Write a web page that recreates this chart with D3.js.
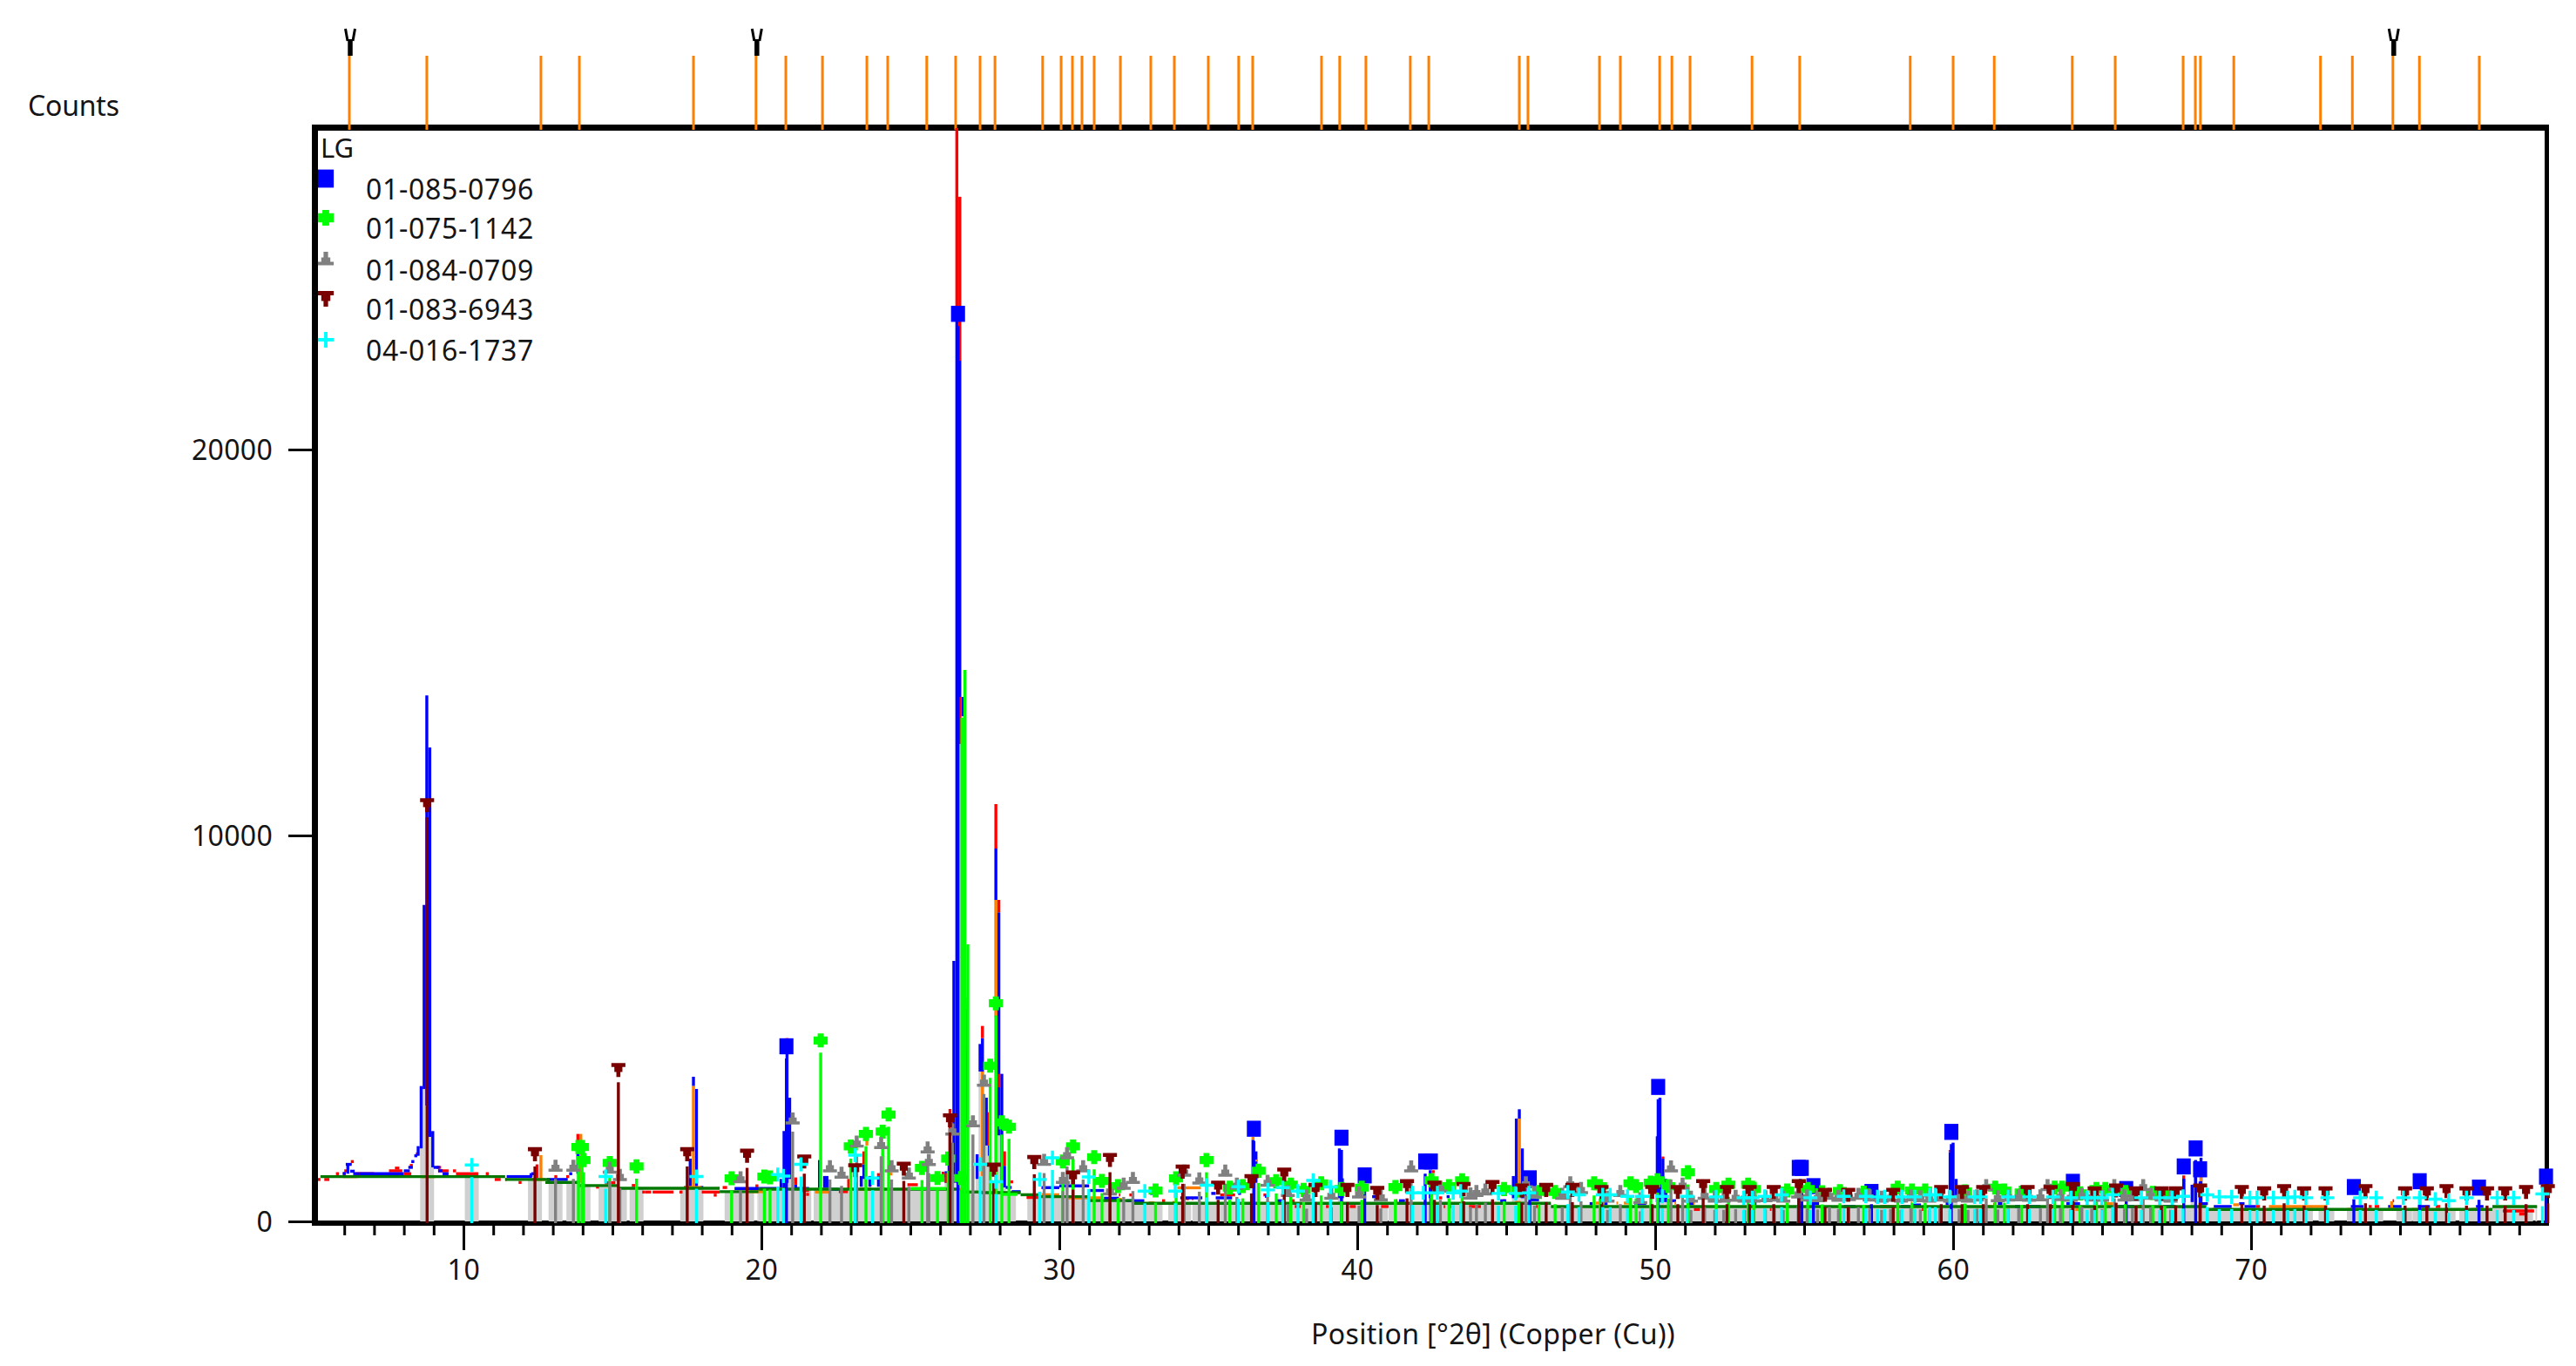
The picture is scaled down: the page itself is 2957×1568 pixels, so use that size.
<!DOCTYPE html>
<html><head><meta charset="utf-8">
<script src="https://cdn.jsdelivr.net/npm/d3@7/dist/d3.min.js"></script>
<style>html,body{margin:0;padding:0;background:#fff}svg{display:block}text{font-family:"Noto Sans",sans-serif;fill:#141414}</style>
</head><body>
<script>
const legendNames=["01-085-0796","01-075-1142","01-084-0709","01-083-6943","04-016-1737"];
const xMajorTicks=[10,20,30,40,50,60,70];
const xMinorTicks=[6,7,8,9,11,12,13,14,15,16,17,18,19,21,22,23,24,25,26,27,28,29,31,32,33,34,35,36,37,38,39,41,42,43,44,45,46,47,48,49,51,52,53,54,55,56,57,58,59,61,62,63,64,65,66,67,68,69,71,72,73,74,75,76,77,78,79];
const yTicks=[0,10000,20000];
const topTicks=[6.17,8.77,12.6,13.89,17.72,19.82,20.82,22.05,23.54,24.24,25.55,26.52,27.34,27.84,29.44,30.06,30.44,30.76,31.17,32.05,33.07,33.86,35.0,36.02,36.49,38.8,39.41,40.29,41.78,42.4,45.44,45.73,48.13,48.83,50.15,50.56,51.17,53.25,54.85,58.56,60,61.38,64,65.44,67.72,68.13,68.3,69.42,72.33,73.4,74.76,75.65,77.66];
const vMarks=[6.17,19.82,74.76];

const blueSticks=[[20.84,4221],[26.6,23200],[36.53,2085],[39.47,1852],[40.25,875],[42.28,1236],[42.47,1236],[45.79,800],[50.1,3168],[54.82,1070],[54.92,1070],[55.31,597],[57.26,446],[59.94,2003],[64.02,709],[65.81,522],[67.74,1108],[68.14,1574],[68.29,1033],[73.45,574],[75.66,725],[77.65,559],[79.9,845]];
const greenSticks=[[13.86,1612],[13.98,1612],[14.03,1273],[14.91,1198],[15.81,1108],[19.0,800],[20.1,845],[20.29,823],[21.99,4372],[23.0,1627],[23.51,1950],[24.07,2010],[24.27,2454],[25.39,1070],[25.91,807],[26.27,1311],[26.7,807],[27.68,3718],[27.87,5334],[28.07,2250],[28.31,2138],[30.12,1236],[30.46,1627],[31.17,1349],[31.43,732],[31.97,597],[33.23,484],[33.92,800],[34.94,1273],[35.72,559],[36.16,597],[36.69,995],[37.28,725],[37.77,634],[38.2,499],[38.79,672],[39.47,522],[40.15,559],[41.28,574],[42.49,747],[43.08,597],[43.52,747],[44.93,522],[45.42,484],[46.1,446],[46.64,446],[47.95,672],[48.15,597],[49.17,672],[49.36,597],[49.85,687],[50.08,747],[50.44,597],[51.1,957],[52.05,522],[52.46,634],[53.12,634],[53.31,522],[54.43,484],[55.12,522],[55.6,440],[56.2,470],[57.0,430],[58.14,559],[58.62,484],[59.06,484],[60.4,460],[61.41,559],[61.72,484],[62.3,430],[63.41,559],[63.66,559],[64.26,409],[64.81,522],[65.11,522],[65.78,446],[66.7,420],[67.1,400]];
const greenTallSticks=[[26.73,13050],[26.83,14290],[26.93,7180]];
const graySticks=[[13.09,1100],[13.69,1100],[14.91,1048],[15.25,860],[19.3,800],[21.05,2326],[22.3,1086],[22.69,920],[23.2,1725],[24.02,1687],[24.37,1086],[24.95,898],[25.58,1574],[25.62,1250],[26.41,2040],[27.1,2250],[27.47,3304],[29.49,1251],[30.12,785],[30.26,1424],[30.8,1086],[31.7,484],[32.16,634],[32.47,785],[34.19,973],[34.7,770],[35.57,973],[35.96,634],[36.99,709],[37.67,446],[38.3,330],[39.13,371],[40.06,409],[40.79,334],[41.81,1085],[42.79,559],[43.8,380],[44.0,446],[44.3,484],[45.66,672],[45.95,409],[46.88,371],[47.15,672],[47.51,522],[48.4,300],[48.83,446],[49.5,260],[50.53,1085],[50.92,634],[51.2,300],[51.66,371],[52.0,300],[52.3,300],[52.7,320],[53.0,300],[53.3,300],[53.7,310],[54.0,330],[54.3,300],[54.8,409],[55.1,330],[55.45,310],[55.85,371],[56.15,320],[56.5,340],[56.82,371],[57.2,330],[57.6,300],[57.9,320],[58.25,300],[58.58,334],[58.9,310],[59.2,300],[59.55,330],[59.9,300],[60.2,320],[60.5,300],[60.8,330],[61.11,597],[61.5,310],[61.85,330],[62.2,334],[62.55,320],[62.93,334],[63.17,597],[63.6,340],[63.95,320],[64.32,371],[64.65,330],[65.0,320],[65.41,597],[65.75,330],[66.02,334],[66.38,597],[66.63,371],[67.0,330],[67.3,300]];
const maroonSticks=[[8.78,10470],[12.4,1424],[15.2,3605],[17.51,1424],[19.52,1386],[21.44,1236],[23.15,1010],[24.78,1048],[26.33,2304],[27.8,1025],[29.16,1221],[30.46,823],[31.7,1274],[34.14,973],[35.33,559],[36.45,725],[37.55,897],[38.6,499],[39.67,499],[40.67,424],[41.67,597],[42.59,559],[43.57,522],[44.54,574],[45.52,484],[46.34,499],[47.22,499],[48.2,446],[49.9,446],[50.76,446],[51.61,597],[52.41,446],[53.17,446],[53.98,446],[54.82,597],[55.7,371],[56.48,371],[57.99,371],[59.6,446],[60.3,446],[61.01,446],[62.5,446],[63.27,446],[64.02,522],[64.75,409],[65.47,484],[66.14,409],[66.99,409],[67.47,409],[68.29,484],[69.69,446],[70.44,409],[71.11,469],[71.78,409],[72.5,409],[73.84,469],[75.17,409],[75.9,409],[76.56,469],[77.23,409],[77.92,409],[78.53,409],[79.23,446],[79.96,469]];
const cyanSticks=[[10.28,1146],[14.77,845],[17.82,845],[20.55,898],[20.74,860],[21.33,1161],[23.15,1401],[23.73,807],[27.34,1161],[27.87,710],[29.34,770],[29.77,1334],[30.99,837],[32.87,469],[33.89,469],[34.94,619],[36.01,582],[37.0,499],[37.5,559],[38.01,469],[38.52,747],[39.1,574],[41.86,424],[42.22,424],[42.69,424],[43.22,424],[43.47,469],[44.74,409],[45.32,409],[45.76,424],[47.07,446],[47.44,371],[48.24,371],[48.49,371],[49.07,334],[49.56,334],[50.24,334],[51.07,334],[52.05,319],[52.97,296],[53.26,296],[53.68,334],[54.24,371],[55.21,296],[56.33,334],[57.07,334],[57.46,319],[57.7,319],[58.28,319],[58.72,319],[59.21,371],[59.4,371],[59.89,319],[60.72,319],[60.92,319],[61.84,319],[62.56,319],[63.35,319],[63.96,296],[64.5,296],[64.75,296],[64.99,296],[65.35,371],[66.32,296],[66.93,296],[67.35,296],[67.72,334],[68.53,371],[68.93,319],[69.35,319],[69.96,296],[70.2,296],[70.75,296],[71.23,296],[71.47,319],[71.84,296],[72.56,296],[73.66,296],[74.2,296],[75.11,296],[75.66,296],[76.18,258],[76.63,220],[77.23,296],[78.26,296],[78.81,296],[79.78,394]];

// profile pieces: horizontal runs [from, to, counts]
const backgroundRuns=[[5.2,11.4,1160],[11.4,12.9,1086],[12.75,13.9,1010],[13.9,15.2,928],[15.2,18.6,858],[18.6,19.9,770],[19.9,26.6,835],[26.7,27.3,762],[27.3,28.7,745],[28.7,29.3,690],[29.3,31.0,640],[31.0,32.5,538],[32.5,46.5,470],[46.5,61,385],[61,68.5,385],[68.5,78.1,310],[78.1,79.6,385]];
const limeRuns=[[25.0,26.2,853],[28.1,28.6,700]];
const redRuns=[[5.1,5.2,1086],[5.33,5.5,1086],[5.72,5.82,1236],[5.95,6.05,1236],[6.0,6.12,1310],[6.22,6.32,1550],[6.38,7.0,1236],[7.5,7.95,1310],[7.7,7.85,1380],[8.0,8.25,1236],[8.2,8.3,1450],[8.4,8.5,1750],[9.1,9.25,1400],[9.15,9.5,1310],[9.65,9.75,1310],[9.75,10.5,1236],[10.75,10.85,1236],[11.05,11.25,1086],[11.4,11.45,1086],[11.85,11.95,1010],[12.8,12.9,1010],[13.05,13.15,1160],[13.45,13.55,1160],[14.45,14.55,888],[14.75,15.1,1000],[15.65,15.8,930],[16.0,16.1,760],[16.1,16.3,760],[16.35,17.05,760],[17.25,17.35,760],[18.0,18.6,760],[18.4,18.5,680],[18.7,18.85,878],[19.8,19.9,920],[21.1,21.2,1100],[21.3,21.6,800],[21.5,21.6,700],[22.6,22.9,770],[23.6,23.7,950],[24.9,25.25,950],[26.05,26.15,1250],[28.35,28.45,1025],[28.9,29.3,620],[32.0,32.05,686],[32.35,32.45,686],[33.45,33.55,535],[34.25,34.35,590],[34.45,34.5,590],[35.4,35.9,686],[36.85,36.95,686],[37.8,37.9,535],[37.9,38.1,385],[38.95,39.05,385],[39.75,39.95,385],[40.8,41.05,385],[41.3,41.35,535],[42.75,42.85,610],[42.9,42.95,385],[43.1,43.15,385],[43.75,44.15,385],[44.9,44.95,535],[46.0,46.1,385],[47.2,47.25,385],[49.1,49.15,535],[51.3,51.5,310],[53.85,53.9,310],[57.15,57.25,385],[57.55,58.15,385],[58.95,59.0,310],[61.35,61.45,440],[66.2,66.45,385],[68.7,68.75,310],[70.15,70.3,385],[73.95,74.05,385],[74.15,74.3,385],[74.75,74.8,535],[76.2,76.35,385],[77.2,77.25,230],[78.45,79.5,270],[79.0,79.2,190]];
const blueRuns=[[5.95,6.05,1240],[6.05,6.25,1477],[6.2,6.35,1300],[6.3,6.5,1236],[6.5,8.0,1236],[8.0,8.2,1310],[8.15,8.3,1400],[8.25,8.35,1550],[8.35,8.45,1700],[9.0,9.2,1400],[9.15,9.3,1310],[9.3,9.5,1236],[11.45,12.3,1160],[12.28,12.4,1236],[12.8,13.5,1086],[13.55,13.65,1236],[17.4,17.6,880],[17.95,18.05,880],[19.1,20.6,853],[21.2,21.6,853],[22.3,22.6,830],[26.0,26.3,1176],[28.2,28.4,880],[28.4,28.7,770],[29.4,30.0,875],[30.0,31.0,920],[31.0,31.5,800],[31.5,32.0,600],[32.26,32.85,535],[33.05,33.15,725],[34.06,34.8,610],[35.1,35.25,725],[35.25,35.8,610],[36.0,36.1,725],[36.9,37.0,650],[37.3,37.5,535],[38.2,38.4,640],[40.5,40.7,640],[41.4,41.6,535],[42.2,42.3,680],[43.0,43.1,640],[44.8,45.0,535],[45.15,45.3,720],[45.6,45.8,1100],[45.8,46.1,560],[47.8,47.9,460],[48.2,48.4,460],[49.3,49.7,460],[50.43,50.7,535],[51.1,51.3,460],[53.3,53.4,460],[55.23,55.5,460],[56.33,56.72,385],[58.25,58.55,385],[58.62,58.92,425],[59.75,59.85,460],[61.5,61.65,460],[62.08,62.44,385],[62.56,62.93,385],[63.17,63.47,385],[63.8,64.26,460],[65.53,66.08,385],[67.05,67.47,385],[68.3,68.55,460],[68.75,69.35,385],[69.6,69.78,460],[69.78,70.15,385],[73.35,73.77,385],[74.6,75.05,385],[75.6,76.0,385],[77.55,77.8,385]];
const orangeRuns=[[5.95,6.45,1160],[8.6,9.05,1160],[12.3,12.75,1086],[13.85,14.1,930],[17.4,18.0,880],[19.6,20.1,770],[21.8,22.3,760],[23.3,23.7,830],[26.6,26.8,830],[27.3,27.5,760],[29.4,30.0,690],[30.3,31.4,610],[31.95,32.1,570],[33.0,33.2,480],[33.8,33.9,490],[33.96,34.75,870],[36.55,36.65,460],[38.7,38.8,460],[45.3,45.5,490],[48.0,48.1,475],[48.25,48.3,475],[48.7,48.75,475],[48.95,49.2,475],[50.65,50.7,475],[51.28,51.33,475],[53.07,53.12,475],[58.58,58.63,475],[61.11,61.3,385],[64.1,64.3,310],[65.1,65.35,460],[69.4,69.6,430],[70.6,72.56,385],[73.23,73.7,310],[74.6,74.85,310],[75.4,75.9,310],[77.4,77.8,310]];
// profile columns: [position, low counts, high counts]
const blueSpikes=[[6.12,1236,1477],[8.48,1700,1950],[8.58,1890,3507],[8.68,3430,8200],[8.77,3000,13630],[8.87,2190,12280],[8.97,1400,2340],[12.27,1150,1250],[13.84,1236,1850],[17.61,880,1627],[17.72,3507,3748],[17.82,876,3432],[20.66,880,1100],[20.76,880,2342],[20.86,1000,4688],[20.95,1100,3206],[21.15,853,950],[21.95,870,1590],[22.12,870,1176],[22.2,870,1176],[23.35,900,1176],[23.44,1100,1477],[23.64,900,1176],[23.93,900,1176],[26.2,1000,1300],[26.3,1000,1777],[26.46,1000,6750],[26.56,1000,23500],[26.66,13590,22300],[26.76,13090,13590],[26.85,2528,4447],[27.24,1100,1740],[27.34,3883,4597],[27.42,3883,4748],[27.55,1966,3206],[27.65,1700,1966],[27.87,8330,9661],[27.97,2230,8010],[28.07,1000,3823],[28.16,880,1440],[36.5,900,2115],[36.6,1000,1814],[39.4,600,1890],[39.5,600,1115],[42.45,600,1325],[45.24,600,1175],[45.34,600,2664],[45.44,2664,2905],[45.54,600,1890],[45.64,600,1250],[50.07,500,2205],[50.16,500,3205],[50.26,500,1626],[50.36,500,1100],[54.87,500,1100],[59.9,500,1790],[60.0,500,2040],[60.1,500,1100],[67.74,500,1100],[68.02,500,950],[68.14,500,1590],[68.32,500,1650]];
const redSpikes=[[12.47,1100,1477],[13.84,1850,2266],[20.86,4688,4748],[21.15,950,1100],[22.93,830,1100],[23.44,1477,1815],[23.93,1176,1250],[26.2,1000,1250],[26.33,1800,2912],[26.56,23500,28330],[26.66,22300,26550],[26.66,12370,13590],[26.85,4447,5500],[27.42,4748,5064],[27.65,1966,2830],[27.87,9661,10813],[27.97,8010,8330],[27.97,3470,3823],[28.16,1440,1815],[42.55,1250,1325],[50.26,1626,1680],[59.9,1790,1850],[67.74,1100,1190]];
const orangeSpikes=[[12.6,1100,1717],[13.94,1000,2266],[17.72,880,3507],[23.54,1966,2154],[24.35,1190,1270],[26.85,5500,5800],[27.42,1176,3883],[27.87,5300,8330],[36.5,2115,2190],[36.6,1550,1600],[45.44,950,2664],[68.32,1040,1175],[74.72,310,520]];

const W=2957,H=1568;
const x=d3.scaleLinear().domain([5,80]).range([361,2926]);
const y=d3.scaleLinear().domain([0,28330]).range([1402,147]);
const svg=d3.select("body").append("svg").attr("width",W).attr("height",H);

const defs=svg.append("defs");
defs.append("clipPath").attr("id","plot").append("rect").attr("x",365).attr("y",147).attr("width",2558).attr("height",1256);
const allSticks=[].concat(greenSticks,graySticks,maroonSticks,cyanSticks,blueSticks);
const bandClip=defs.append("clipPath").attr("id","bands");
bandClip.selectAll("rect").data(allSticks).join("rect")
  .attr("x",d=>x(d[0])-8).attr("y",100).attr("width",16).attr("height",1400);

// frame
const frame=svg.append("g").attr("stroke","#000").attr("fill","none");
frame.append("line").attr("x1",358).attr("x2",2926).attr("y1",146.5).attr("y2",146.5).attr("stroke-width",7);
frame.append("line").attr("x1",358).attr("x2",2926).attr("y1",1404).attr("y2",1404).attr("stroke-width",6);
frame.append("line").attr("x1",361.5).attr("x2",361.5).attr("y1",143).attr("y2",1407).attr("stroke-width",7);
frame.append("line").attr("x1",2923.5).attr("x2",2923.5).attr("y1",143).attr("y2",1407).attr("stroke-width",5);

// axes
const axMinor=svg.append("g").attr("transform","translate(0,1405)").call(d3.axisBottom(x).tickValues(xMinorTicks).tickSize(13).tickFormat("").tickSizeOuter(0));
const axMajor=svg.append("g").attr("transform","translate(0,1405)").call(d3.axisBottom(x).tickValues(xMajorTicks).tickSize(30).tickFormat(d3.format("d")).tickSizeOuter(0));
const axY=svg.append("g").attr("transform","translate(358,0)").call(d3.axisLeft(y).tickValues(yTicks).tickSize(27).tickFormat(d3.format("d")).tickSizeOuter(0));
[axMinor,axMajor,axY].forEach(a=>{a.select(".domain").remove();a.selectAll("line").attr("stroke","#000").attr("stroke-width",3);a.attr("font-family",null).attr("font-size",null);});
axMajor.selectAll("text").attr("y",53).attr("dy","0.35em").style("font-size","32px").style("letter-spacing","0.6px").attr("fill","#141414");
axY.selectAll("text").attr("x",-45).attr("dy","0.35em").style("font-size","32px").style("letter-spacing","0.3px").attr("fill","#141414");

// top reference ticks
svg.append("g").selectAll("line").data(topTicks).join("line")
  .attr("x1",d=>x(d)).attr("x2",d=>x(d)).attr("y1",64).attr("y2",149)
  .attr("stroke","#ff8000").attr("stroke-width",3);
const vg=svg.append("g").selectAll("g").data(vMarks).join("g").attr("transform",d=>`translate(${x(d)+1},0)`);
vg.append("path").attr("d","M-5.5,33L-3,47M5.5,33L3,47").attr("stroke","#000").attr("stroke-width",3).attr("fill","none");
vg.append("line").attr("x1",0).attr("x2",0).attr("y1",45).attr("y2",64).attr("stroke","#000").attr("stroke-width",5.5);

// grey bands under the profile
const bandLayer=svg.append("g").attr("clip-path","url(#bands)");
bandLayer.selectAll(".b").data(backgroundRuns).join("rect").attr("class","b")
  .attr("x",d=>x(d[0])).attr("width",d=>x(d[1])-x(d[0])).attr("y",d=>y(d[2])).attr("height",d=>y(0)-y(d[2])).attr("fill","#d0d0d0");
bandLayer.selectAll(".s").data(blueSpikes).join("rect").attr("class","s")
  .attr("x",d=>x(d[0])-1.7).attr("width",3.4).attr("y",d=>y(d[1])).attr("height",d=>y(0)-y(d[1])).attr("fill","#d0d0d0");

const prof=svg.append("g").attr("clip-path","url(#plot)");
function runs(data,color){
  prof.append("g").selectAll("line").data(data).join("line")
    .attr("x1",d=>x(d[0])).attr("x2",d=>x(d[1])).attr("y1",d=>y(d[2])).attr("y2",d=>y(d[2]))
    .attr("stroke",color).attr("stroke-width",3.4);
}
function spikes(data,color){
  prof.append("g").selectAll("line").data(data).join("line")
    .attr("x1",d=>x(d[0])).attr("x2",d=>x(d[0])).attr("y1",d=>y(d[1])).attr("y2",d=>y(d[2]))
    .attr("stroke",color).attr("stroke-width",3.4);
}
runs(redRuns,"#ff0000");
runs(blueRuns,"#0000ff");
spikes(blueSpikes,"#0000ff");
spikes(redSpikes,"#ff0000");
runs(orangeRuns,"#ff8000");
spikes(orangeSpikes,"#ff8000");
runs(backgroundRuns,"#007800");
runs(limeRuns,"#00ff00");

// reference sticks & markers
const shapes={
  square:"M-7,-8H7V8H-7Z",
  round:"M-3,-7H3V-4H7V4H3V7H-3V4H-7V-4H-3Z",
  up:"M-2,-7H2V-2H4V2H7V5H-7V2H-4V-2H-2Z",
  down:"M-7,-7H7V-3H4V2H2V7H-2V2H-4V-3H-7Z",
  plus:"M-1.5,-7H1.5V-1.5H7V1.5H1.5V7H-1.5V1.5H-7V-1.5H-1.5Z"
};
const series=[
 {d:blueSticks,c:"#0000ff",s:"square"},
 {d:greenSticks,c:"#00ff00",s:"round"},
 {d:graySticks,c:"#808080",s:"up"},
 {d:maroonSticks,c:"#7a0000",s:"down"},
 {d:cyanSticks,c:"#00ffff",s:"plus"}
];
svg.append("g").selectAll("line").data(greenTallSticks).join("line")
  .attr("x1",d=>x(d[0])).attr("x2",d=>x(d[0])).attr("y1",y(0)+2).attr("y2",d=>y(d[1]))
  .attr("stroke","#00ff00").attr("stroke-width",3.4);
series.forEach(S=>{
  const g=svg.append("g");
  g.selectAll("line").data(S.d).join("line")
   .attr("x1",d=>x(d[0])).attr("x2",d=>x(d[0])).attr("y1",y(0)+2).attr("y2",d=>y(d[1]))
   .attr("stroke",S.c).attr("stroke-width",3.4);
  g.selectAll("path").data(S.d).join("path")
   .attr("d",shapes[S.s]).attr("fill",S.c)
   .attr("transform",d=>`translate(${x(d[0])},${y(d[1])-14}) scale(1.15)`);
});

// labels
const T=(t,px,py,anchor,size,ls)=>svg.append("text").attr("x",px).attr("y",py).attr("dy","0.35em").attr("text-anchor",anchor||"start").style("font-size",(size||32)+"px").style("letter-spacing",(ls||0)+"px").text(t);
T("Counts",32,122,"start",32,-0.2);
T("LG",368,170,"start",31);
T("Position [°2θ] (Copper (Cu))",1714,1532,"middle",32,0.4);
const legY=[218,263,311,356,403], legM=[205,250,298,343,390];
legendNames.forEach((n,i)=>{
  T(n,420,legY[i],"start",32,0.7);
  svg.append("path").attr("d",shapes[series[i].s]).attr("fill",series[i].c).attr("transform",`translate(374,${legM[i]}) scale(1.3)`);
});
</script>
</body></html>
